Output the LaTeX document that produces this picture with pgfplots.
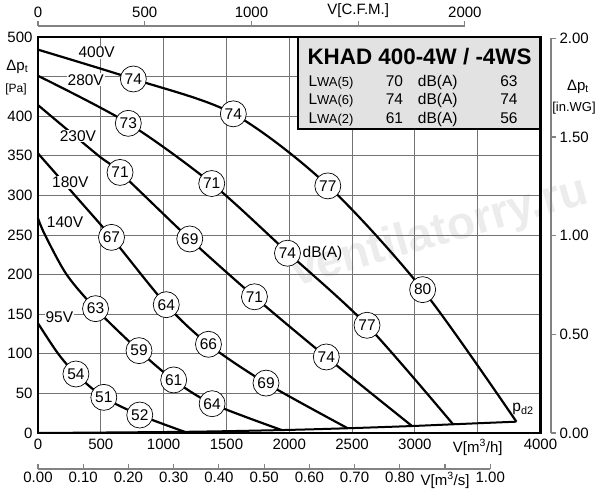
\documentclass[border=0pt]{standalone}
\usepackage{pgfplots}
\pgfplotsset{compat=1.18}
\usepackage{fontspec}
\setmainfont{Liberation Sans}
\newcommand{\fs}[1]{\fontsize{#1bp}{#1bp}\selectfont}
\definecolor{gridgray}{RGB}{115,115,115}
\definecolor{axgray}{RGB}{130,130,130}
\definecolor{boxgray}{RGB}{226,226,226}
\definecolor{wmark}{RGB}{236,236,236}
\begin{document}
\begin{tikzpicture}
\path[use as bounding box] (-38bp,-67bp) rectangle (562bp,433bp);
% watermark
\node[rotate=16, font=\bfseries\fs{46}, text=wmark] at (402bp,200bp) {ventilatorry.ru};
% top CFM axis
\begin{axis}[at={(0bp,0bp)},anchor=south west,scale only axis,
  width=426.9bp,height=407bp,xmin=0,xmax=2000,ymin=0,ymax=1,
  axis y line=none, axis x line=top,
  axis line style={-,axgray,line width=1.1bp},
  xtick={0,500,1000,1500,2000}, xticklabels={0,500,1000,{V[C.F.M.]},2000},
  tick align=outside, major tick length=5bp, xtick style={axgray,line width=1.1bp},
  tick label style={font=\fs{15}}, /pgf/number format/assume math mode=true]
\end{axis}
% bottom m3/s axis
\begin{axis}[at={(0bp,-36bp)},anchor=south west,scale only axis,
  width=452.25bp,height=20bp,xmin=0,xmax=1,ymin=0,ymax=1,
  axis y line=none, axis x line=bottom,
  axis line style={-,axgray,line width=1.1bp},
  xtick={0,0.1,0.2,0.3,0.4,0.5,0.6,0.7,0.8,0.9,1},
  xticklabels={0.00,0.10,0.20,0.30,0.40,0.50,0.60,0.70,0.80,{V[m\textsuperscript{3}/s]},1.00},
  tick align=inside, major tick length=5bp, xtick style={axgray,line width=1.1bp},
  tick label style={font=\fs{15}}, /pgf/number format/assume math mode=true]
\end{axis}
% right in.WG axis
\begin{axis}[at={(0bp,0bp)},anchor=south west,scale only axis,
  width=513bp,height=394.6bp,xmin=0,xmax=1,ymin=0,ymax=2,
  axis x line=none, axis y line=right,
  axis line style={-,axgray,line width=1.1bp},
  ytick={0,0.5,1,1.5,2}, yticklabels={0.00,0.50,1.00,1.50,2.00},
  tick align=outside, major tick length=5bp, ytick style={axgray,line width=1.1bp},
  tick label style={font=\fs{15}}, /pgf/number format/assume math mode=true]
\end{axis}
% main axis
\begin{axis}[at={(0bp,0bp)},anchor=south west,scale only axis,
  width=502.5bp,height=396bp,xmin=0,xmax=4000,ymin=0,ymax=500,
  xtick={0,500,1000,1500,2000,2500,3000,3500,4000},
  xticklabels={0,500,1000,1500,2000,2500,3000,{V[m\textsuperscript{3}/h]},4000},
  ytick={0,50,100,150,200,250,300,350,400,450,500},
  yticklabels={0,50,100,150,200,250,300,350,400,{},500},
  grid=major, major grid style={gridgray,line width=0.8bp},
  axis line style={line width=2.6bp}, major tick length=0pt,
  tick label style={font=\fs{15}}, /pgf/number format/assume math mode=true,
  x tick label style={yshift=-3bp}, y tick label style={xshift=-2bp},
  clip=false]
% p_d2 line
\addplot[black, line width=2bp, smooth] coordinates {(0,0) (1167,1.5) (1940,3.7) (2465,6) (2977,8.8) (3304,11) (3808,14.3)};
% 400V
\addplot[black, line width=2.2bp, smooth] coordinates {(0,484) (759,447) (1555,403) (2303,313) (3062,181) (3808,14.3)};
% 280V
\addplot[black, line width=2.2bp, smooth] coordinates {(0,451) (719,391) (1383,315) (1987,228) (2619,136) (3304,11)};
% 230V
\addplot[black, line width=2.2bp, smooth] coordinates {(0,414) (467,352) (653,329) (1207,245) (1723,172) (2295,96) (2977,8.8)};
% 180V
\addplot[black, line width=2.2bp, smooth] coordinates {(0,353) (294,300) (585,247) (1021,162) (1357,112) (1815,63) (2465,6)};
% 140V
\addplot[black, line width=2.2bp, smooth] coordinates {(0,271) (56,250) (228,200) (458,157) (804,104) (1080,67) (1386,37) (1940,3.7)};
% 95V
\addplot[black, line width=2.2bp, smooth] coordinates {(0,138.5) (161,100) (302,74.5) (524,45) (810,22.7) (1167,1.5)};
% dB(A) circles
\addplot[only marks, mark=none, nodes near coords, point meta=explicit symbolic,
  every node near coord/.append style={anchor=center, circle, draw=black, fill=white, text=black,
  line width=0.7bp, inner sep=0pt, minimum size=26bp, font=\fs{15.5}}]
  table[meta=l, row sep=\\] {x y l\\
  759 447 74\\ 1555 403 74\\ 2307 312 77\\ 3062 181 80\\
  719 391 73\\ 1383 315 71\\ 1986 227 74\\ 2619 136 77\\
  653 329 71\\ 1208 245 69\\ 1723 172 71\\ 2295 96 74\\
  585 247 67\\ 1021 162 64\\ 1357 112 66\\ 1815 63 69\\
  458 157 63\\ 804 104 59\\ 1080 67 61\\ 1386 37 64\\
  302 74.5 54\\ 524 45 51\\ 810 22.7 52\\
  };
% voltage labels
\node[fill=white, inner sep=1bp, font=\fs{15.5}] at (axis cs:467,481) {400V};
\node[fill=white, inner sep=1bp, font=\fs{15.5}] at (axis cs:380,446) {280V};
\node[fill=white, inner sep=1bp, font=\fs{15.5}] at (axis cs:318,375) {230V};
\node[fill=white, inner sep=1bp, font=\fs{15.5}] at (axis cs:257,316.5) {180V};
\node[fill=white, inner sep=1bp, font=\fs{15.5}] at (axis cs:215,266) {140V};
\node[fill=white, inner sep=1bp, font=\fs{15.5}] at (axis cs:170,146) {95V};
\node[anchor=west, inner sep=0pt, font=\fs{15.5}] at (axis cs:2105,227) {dB(A)};
\node[font=\fs{15.5}] at (axis cs:3861,30) {p\textsubscript{d2}};
\end{axis}
% table box
\draw[line width=2.4bp, fill=boxgray] (260bp,303.7bp) rectangle (502.5bp,396bp);
\node[anchor=west, inner sep=0pt, font=\bfseries\fs{22.4}] at (269.3bp,376.3bp) {KHAD 400-4W / -4WS};
\node[anchor=base west, inner sep=0pt, font=\fs{15.5}] at (270.3bp,346.5bp) {L{\fs{13}WA(5)}};
\node[anchor=base west, inner sep=0pt, font=\fs{15.5}] at (270.3bp,328.2bp) {L{\fs{13}WA(6)}};
\node[anchor=base west, inner sep=0pt, font=\fs{15.5}] at (270.3bp,309.2bp) {L{\fs{13}WA(2)}};
\node[anchor=base east, inner sep=0pt, font=\fs{15.5}] at (365.3bp,346.5bp) {70};
\node[anchor=base east, inner sep=0pt, font=\fs{15.5}] at (365.3bp,328.2bp) {74};
\node[anchor=base east, inner sep=0pt, font=\fs{15.5}] at (365.3bp,309.2bp) {61};
\node[anchor=base west, inner sep=0pt, font=\fs{15.5}] at (379.7bp,346.5bp) {dB(A)};
\node[anchor=base west, inner sep=0pt, font=\fs{15.5}] at (379.7bp,328.2bp) {dB(A)};
\node[anchor=base west, inner sep=0pt, font=\fs{15.5}] at (379.7bp,309.2bp) {dB(A)};
\node[anchor=base east, inner sep=0pt, font=\fs{15.5}] at (479.7bp,346.5bp) {63};
\node[anchor=base east, inner sep=0pt, font=\fs{15.5}] at (479.7bp,328.2bp) {74};
\node[anchor=base east, inner sep=0pt, font=\fs{15.5}] at (479.7bp,309.2bp) {56};
% axis titles
\node[font=\fs{15}] at (-20.7bp,366.3bp) {Δp\textsubscript{t}};
\node[font=\fs{12}] at (-22bp,343.7bp) {[Pa]};
\node[font=\fs{15}] at (540bp,346.3bp) {Δp\textsubscript{t}};
\node[font=\fs{13}, fill=white, inner sep=0.5bp] at (536bp,325bp) {[in.WG]};
\end{tikzpicture}
\end{document}
